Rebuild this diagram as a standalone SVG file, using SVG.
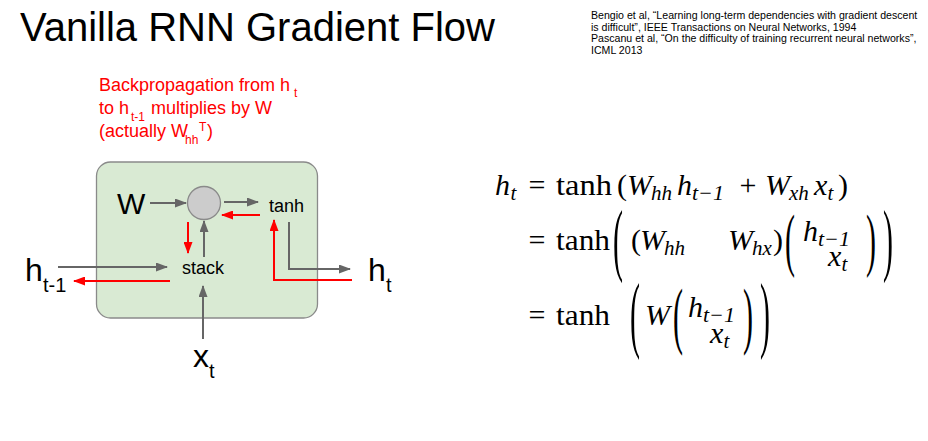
<svg xmlns="http://www.w3.org/2000/svg" width="928" height="441" viewBox="0 0 928 441">
<defs>
<style>
.sans{font-family:"Liberation Sans",Arial,sans-serif}
.ser{font-family:"Liberation Serif","Times New Roman",serif}
.it{font-style:italic}
.g{stroke:#666;stroke-width:2;fill:none}
.r{stroke:#ff0000;stroke-width:2;fill:none}
.ga{marker-end:url(#ag)}
.ra{marker-end:url(#ar)}
.m{font-size:30px}
.s{font-size:21px}
</style>
<marker id="ag" markerUnits="userSpaceOnUse" markerWidth="12" markerHeight="9" refX="11" refY="4.5" orient="auto"><path d="M0,0 L12,4.5 L0,9 z" fill="#666"/></marker>
<marker id="ar" markerUnits="userSpaceOnUse" markerWidth="12" markerHeight="9" refX="11" refY="4.5" orient="auto"><path d="M0,0 L12,4.5 L0,9 z" fill="#ff0000"/></marker>
</defs>
<rect width="928" height="441" fill="#ffffff"/>

<g id="title"><text class="sans" x="20" y="41" font-size="40" fill="#000">Vanilla RNN Gradient Flow</text></g>

<g id="citations" class="sans" font-size="10.6" fill="#000">
<text x="591" y="19">Bengio et al, “Learning long-term dependencies with gradient descent</text>
<text x="591" y="30.5">is difficult”, IEEE Transactions on Neural Networks, 1994</text>
<text x="591" y="42">Pascanu et al, “On the difficulty of training recurrent neural networks”,</text>
<text x="591" y="53.5">ICML 2013</text>
</g>

<g id="note" class="sans" font-size="18" fill="#ff0000">
<text x="99" y="91">Backpropagation from h</text><text x="294" y="97" font-size="12">t</text>
<text x="99" y="114">to h</text><text x="131" y="121" font-size="12">t-1</text><text x="151" y="114">multiplies by W</text>
<text x="99" y="137">(actually W</text><text x="185" y="144" font-size="12">hh</text><text x="199" y="131" font-size="12">T</text><text x="207" y="137">)</text>
</g>

<g id="cell"><rect x="96.5" y="162" width="221" height="156" rx="14" ry="14" fill="#d9ead3" stroke="#8a8a8a" stroke-width="1.3"/></g>

<g id="mult"><circle cx="204" cy="203" r="16.5" fill="#cccccc" stroke="#8a8a8a" stroke-width="1.3"/></g>
<g id="W"><text class="sans" x="117" y="214" font-size="30">W</text></g>
<g id="tanh"><text class="sans" x="269" y="212" font-size="18">tanh</text></g>
<g id="stack"><text class="sans" x="182" y="274" font-size="18">stack</text></g>
<g id="h_prev"><text class="sans" x="25" y="281" font-size="32">h</text><text class="sans" x="43" y="292" font-size="20">t-1</text></g>
<g id="h_t"><text class="sans" x="368" y="281" font-size="32">h</text><text class="sans" x="386" y="292" font-size="20">t</text></g>
<g id="x_t"><text class="sans" x="193" y="367" font-size="32">x</text><text class="sans" x="209" y="378" font-size="20">t</text></g>

<g id="connectors">
<path class="g ga" d="M150,203 L186,203"/>
<path class="g ga" d="M224,202 L258,202"/>
<path class="g ga" d="M204,257 L204,221"/>
<path class="g ga" d="M58,267 L167,267"/>
<path class="g ga" d="M203,339 L203,286"/>
<path class="g ga" d="M289,222 L289,269 L350,269"/>
<path class="r ra" d="M260,215 L222,215"/>
<path class="r ra" d="M188,222 L188,253"/>
<path class="r ra" d="M170,281 L74,281"/>
<path class="r ra" d="M352,280 L274,280 L274,220"/>
</g>

<g id="equations" class="ser" fill="#000">
<!-- line 1 -->
<text class="m it" x="495" y="195">h</text><text class="s it" x="510.5" y="200">t</text>
<text class="m" x="537" y="195" text-anchor="middle">=</text>
<text class="m" x="556" y="195" textLength="56" lengthAdjust="spacingAndGlyphs">tanh</text>
<text class="m" x="617" y="195">(</text>
<text class="m it" x="627" y="195">W</text><text class="s it" x="651" y="200">hh</text>
<text class="m it" x="677" y="195">h</text><text class="s it" x="692" y="200" textLength="32" lengthAdjust="spacingAndGlyphs">t−1</text>
<text class="m" x="748" y="195" text-anchor="middle">+</text>
<text class="m it" x="765" y="195">W</text><text class="s it" x="789" y="200">xh</text>
<text class="m it" x="814" y="195">x</text><text class="s it" x="827.5" y="200">t</text>
<text class="m" x="838" y="195">)</text>

<!-- line 2 -->
<text class="m" x="537" y="250" text-anchor="middle">=</text>
<text class="m" x="556" y="250" textLength="54" lengthAdjust="spacingAndGlyphs">tanh</text>
<text class="m" transform="translate(613,247) scale(1,2.7)" y="7">(</text>
<text class="m" x="631" y="250">(</text>
<text class="m it" x="640" y="250">W</text><text class="s it" x="664" y="255">hh</text>
<text class="m it" x="728" y="250">W</text><text class="s it" x="752" y="255">hx</text>
<text class="m" x="773" y="250">)</text>
<text class="m" transform="translate(785,247) scale(1,2.3)" y="7">(</text>
<text class="m it" x="803" y="241">h</text><text class="s it" x="818" y="246" textLength="32" lengthAdjust="spacingAndGlyphs">t−1</text>
<text class="m it" x="828" y="266">x</text><text class="s it" x="841.5" y="271">t</text>
<text class="m" transform="translate(866,247) scale(1,2.3)" y="7">)</text>
<text class="m" transform="translate(883,247) scale(1,2.7)" y="7">)</text>

<!-- line 3 -->
<text class="m" x="537" y="325" text-anchor="middle">=</text>
<text class="m" x="556" y="325" textLength="54" lengthAdjust="spacingAndGlyphs">tanh</text>
<text class="m" transform="translate(630,322) scale(1,2.8)" y="7">(</text>
<text class="m it" x="645" y="325">W</text>
<text class="m" transform="translate(673,322) scale(1,2.5)" y="7">(</text>
<text class="m it" x="688" y="317">h</text><text class="s it" x="703" y="322" textLength="32" lengthAdjust="spacingAndGlyphs">t−1</text>
<text class="m it" x="710" y="343">x</text><text class="s it" x="723.5" y="348">t</text>
<text class="m" transform="translate(743,322) scale(1,2.5)" y="7">)</text>
<text class="m" transform="translate(760,322) scale(1,2.8)" y="7">)</text>
</g>
</svg>
